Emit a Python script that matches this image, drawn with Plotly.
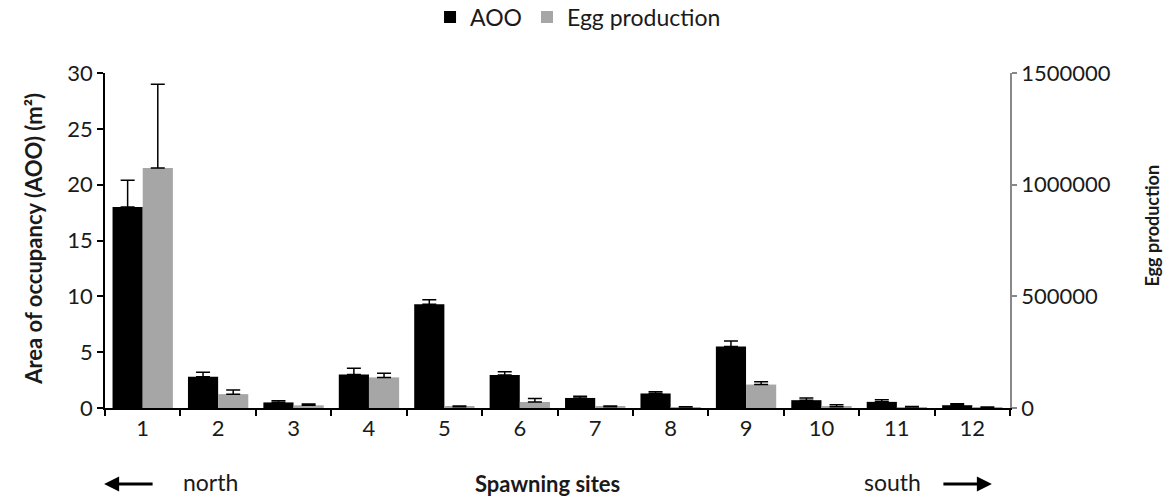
import plotly.graph_objects as go

sites = ["1", "2", "3", "4", "5", "6", "7", "8", "9", "10", "11", "12"]
aoo = [18.0, 2.8, 0.5, 3.0, 9.3, 2.95, 0.9, 1.3, 5.5, 0.7, 0.55, 0.25]
aoo_err = [2.4, 0.4, 0.15, 0.55, 0.4, 0.3, 0.15, 0.15, 0.5, 0.2, 0.2, 0.12]
egg = [1075000, 62000, 12000, 137000, 6000, 27000, 6000, 4000, 105000, 6000, 4000, 3000]
egg_err = [375000, 19000, 6000, 19000, 3000, 15000, 3000, 2000, 12000, 8000, 3000, 2000]

FONT = "Lato"
TXT = "#1a1a1a"

fig = go.Figure()
fig.add_trace(go.Bar(
    x=sites, y=aoo, name="AOO", marker=dict(color="#000000", line=dict(width=0)),
    offsetgroup="a", yaxis="y",
    error_y=dict(type="data", array=aoo_err, arrayminus=[0] * len(aoo_err), symmetric=False,
                 color="#000000", thickness=1.5, width=7),
))
fig.add_trace(go.Bar(
    x=sites, y=egg, name="Egg production", marker=dict(color="#A6A6A6", line=dict(width=0)),
    offsetgroup="b", yaxis="y2",
    error_y=dict(type="data", array=egg_err, arrayminus=[0] * len(egg_err), symmetric=False,
                 color="#000000", thickness=1.5, width=7),
))

fig.update_layout(
    width=1164, height=498,
    margin=dict(l=105, r=154, t=73, b=90),
    paper_bgcolor="white", plot_bgcolor="white",
    font=dict(family=FONT, size=22, color=TXT),
    barmode="group", bargap=0.2, bargroupgap=0,
    showlegend=True,
    legend=dict(orientation="h", xref="container", yref="container",
                x=0.4966, xanchor="center", y=0.966, yanchor="middle",
                font=dict(size=23, family=FONT, color=TXT), itemwidth=30,
                traceorder="normal", itemclick=False),
    xaxis=dict(
        range=[-0.5, 11.5], showline=True, linecolor="#000000", linewidth=1.5,
        ticks="outside", tickson="boundaries", ticklen=6, tickcolor="#000000", tickwidth=1.5,
        tickfont=dict(size=22, family=FONT, color=TXT), showgrid=False, zeroline=False,
    ),
    yaxis=dict(
        range=[0, 30], dtick=5, showline=True, linecolor="#000000", linewidth=1.5,
        ticks="outside", ticklen=6, tickcolor="#000000", tickwidth=1.5,
        tickfont=dict(size=22, family=FONT, color=TXT), showgrid=False, zeroline=False,
    ),
    yaxis2=dict(
        range=[0, 1500000], dtick=500000, overlaying="y", side="right",
        showline=True, linecolor="#888888", linewidth=1.5,
        ticks="outside", ticklen=5, tickcolor="#888888", tickwidth=1.5,
        tickfont=dict(size=22, family=FONT, color=TXT), showgrid=False, zeroline=False,
        tickformat="d",
    ),
    annotations=[
        dict(text="<b>Area of occupancy (AOO) (m²)</b>", xref="paper", yref="paper",
             x=-0.0785, y=0.505, xanchor="center", yanchor="middle", textangle=-90,
             showarrow=False, font=dict(size=22, family=FONT, color=TXT)),
        dict(text="<b>Egg production</b>", xref="paper", yref="paper",
             x=1.157, y=0.545, xanchor="center", yanchor="middle", textangle=-90,
             showarrow=False, font=dict(size=18, family=FONT, color=TXT)),
        dict(text="<b>Spawning sites</b>", xref="paper", yref="paper",
             x=0.489, y=-0.225, xanchor="center", yanchor="middle",
             showarrow=False, font=dict(size=22, family=FONT, color=TXT)),
        dict(text="north", xref="paper", yref="paper",
             x=0.084, y=-0.222, xanchor="left", yanchor="middle",
             showarrow=False, font=dict(size=23, family=FONT, color=TXT)),
        dict(text="south", xref="paper", yref="paper",
             x=0.836, y=-0.222, xanchor="left", yanchor="middle",
             showarrow=False, font=dict(size=23, family=FONT, color=TXT)),
        dict(text="", xref="paper", yref="paper", axref="pixel", ayref="pixel",
             x=-0.001, y=-0.227, ax=50, ay=0, showarrow=True,
             arrowhead=2, arrowsize=1, arrowwidth=3, arrowcolor="#000000"),
        dict(text="", xref="paper", yref="paper", axref="pixel", ayref="pixel",
             x=0.98, y=-0.227, ax=-50, ay=0, showarrow=True,
             arrowhead=2, arrowsize=1, arrowwidth=3, arrowcolor="#000000"),
    ],
)

fig.write_html("out.html", config={"displayModeBar": False},
               post_script="document.body.style.margin='0';")
